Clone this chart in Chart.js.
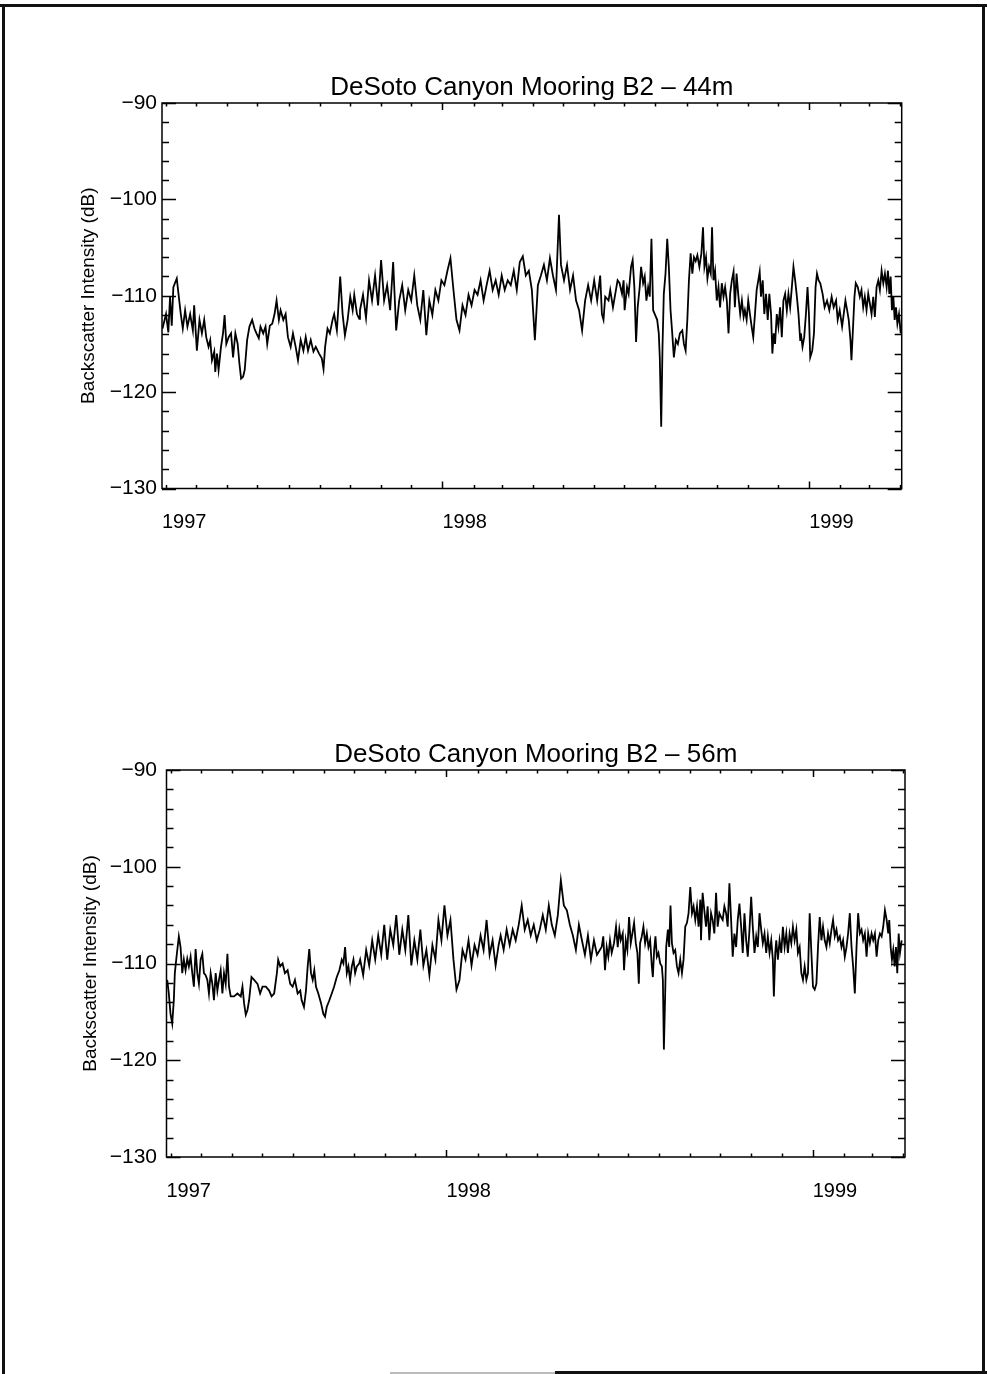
<!DOCTYPE html>
<html>
<head>
<meta charset="utf-8">
<script src="https://cdn.jsdelivr.net/npm/chart.js@4/dist/chart.umd.min.js"></script>
<style>
  html, body { margin: 0; padding: 0; background: #fff; }
  body { width: 987px; height: 1374px; position: relative; overflow: hidden; }
  .panel { position: absolute; left: 0; }
  .edge { position: absolute; background: #111; }
</style>
</head>
<body>
<div class="edge" style="left:0;top:4px;width:987px;height:3px"></div>
<div class="edge" style="left:2px;top:4px;width:3px;height:1370px"></div>
<div class="edge" style="left:982px;top:4px;width:3px;height:1370px"></div>
<div class="edge" style="left:555px;top:1371px;width:432px;height:3px"></div>
<div class="edge" style="left:390px;top:1372px;width:165px;height:2px;background:#bbb"></div>

<div class="panel" style="top:0"><canvas id="c44" width="987" height="560"></canvas></div>
<div class="panel" style="top:640px"><canvas id="c56" width="987" height="588"></canvas></div>

<script>
// Time axis: days counted from 1 Jan 1997.
const X_MIN = 86;
const X_MAX = 822;
const YEAR_TICKS = [86, 365, 730];
const YEAR_LABELS = ['1997', '1998', '1999'];
const MONTH_TICKS = [90, 120, 151, 181, 212, 243, 273, 304, 334, 365, 396, 424, 455,
  485, 516, 546, 577, 608, 638, 669, 699, 730, 761, 789, 820];
const Y_MIN = -130;
const Y_MAX = -90;
const Y_LABEL = 'Backscatter Intensity (dB)';

// Backscatter intensity at 44 m (day, dB)
const days44 = [86.5, 90, 92.3, 94, 95.7, 97.3, 100.7, 102.3, 104.7, 106.7, 109, 111.3, 114, 116.7, 118,
  120.7, 123.3, 125.7, 128, 130, 132.3, 134, 135.7, 138, 139, 140.7, 142.3, 144.7, 146.7, 148.3, 150,
  152.3, 154.7, 156.7, 159, 161.3, 163, 164.7, 166.7, 168.3, 170.7, 173, 175.7, 178, 180, 182.3, 184,
  186.7, 189, 190.7, 193.3, 195.7, 198, 200, 202.3, 204, 206.7, 209, 211.3, 214, 216.3, 219, 221.3,
  224, 226.7, 229, 231.3, 234, 236.7, 239, 242.3, 245, 246.7, 248.3, 250.7, 253, 255.7, 257.3, 260,
  261.3, 263.3, 265.7, 268, 270.7, 273.3, 275.7, 277.3, 280, 282.3,
  283, 286, 289, 292, 295, 298, 301, 304, 307, 310, 313, 316, 319, 322, 325, 328, 331, 334, 337, 340,
  343, 346, 349, 352, 355, 358, 361, 364, 367, 370, 373, 376, 379, 382, 385, 388, 391, 394, 397, 400,
  403, 406, 409, 412, 415, 418, 421, 424, 427, 430, 433, 436, 439, 442, 445, 448, 451, 454, 457, 460,
  463, 466, 469, 472, 475, 478, 481, 483, 486, 489, 492, 495, 498, 501, 504, 507, 510, 513, 516, 519, 522,
  523.7, 525.3, 527, 530.3, 532, 534.7, 537, 539.3, 541.3, 543.7, 545.3, 546.3, 548.7, 550.3, 552.7,
  554.3, 556, 557.7, 559.3, 561.3, 562.7, 564.7, 566.3, 568, 569.7, 571.3, 573, 574.7, 576.3, 578.7,
  580.3, 581.3, 582.7, 584, 585.3, 587, 588.7, 590.3, 592, 593.7, 595.3, 597.3, 599.3, 601.3, 603.7,
  605.3, 607, 608.7, 610.3, 612, 613.7, 615.3, 617, 618.7, 620.7, 622.7, 624.3, 625.7, 627.3, 628.7,
  630.3, 632, 633.3, 634.7, 636.3, 638, 639.7, 641.3, 643, 644.7, 646.3, 648, 649.7, 651.3, 653, 654.7,
  656, 657.7, 659.3, 661.3, 663, 664.7, 666, 667.7, 669.3, 671, 672.7, 674.3, 676, 677.7, 679.3, 680.7,
  682, 683.7, 685.3, 687, 688.7, 690.3, 692, 693.3, 694.7, 696, 697.7, 699.3, 701, 702.7, 704.3, 706,
  707.7, 709.3, 711, 712.7, 714.3, 716, 717.7, 719.3, 721, 721.7, 723.3, 725, 726.7, 728.3, 729.7, 731,
  733, 734.7, 736.3, 737.7, 739.3, 741, 743.3, 745.3, 747.7, 750, 752.3, 754.3, 756.7, 758.3, 760.3,
  762.7, 764.3, 766, 767.7, 769.3, 771, 772, 773.3, 775, 776.3, 778.3, 780.3, 782, 783.7, 785.3, 787,
  788.7, 790.3, 792, 793.7, 795.3, 797, 798.7, 800.3, 802, 803.7, 805.3, 807, 808.3, 809.7, 811, 812.3,
  813.7, 815, 816.3, 817.7, 819.3, 821];
const db44 = [-113.4, -111.9, -113.8, -110.1, -113.1, -109.1, -108.2, -109.7, -111.9, -113.4, -111.5, -113.2, -111.9, -113.6, -111.0,
  -115.7, -112.5, -113.9, -112.5, -114.3, -115.3, -114.6, -116.7, -115.8, -117.9, -116.0, -117.7, -115.3, -113.9, -112.0, -115.0,
  -114.3, -113.9, -116.4, -113.9, -115.0, -117.0, -118.6, -118.4, -117.7, -114.6, -113.2, -112.5, -113.4, -113.9, -114.4, -113.2,
  -113.9, -113.2, -115.0, -113.1, -112.9, -111.9, -110.5, -112.5, -111.5, -112.5, -111.9, -114.3, -115.3, -113.9, -115.3, -116.7,
  -114.6, -115.7, -114.3, -115.7, -114.6, -115.8, -115.3, -116.0, -116.5, -117.6, -115.3, -113.4, -113.9, -112.5, -111.9, -113.6,
  -111.5, -108.0, -111.9, -114.1, -112.5, -110.1, -111.5, -109.9, -111.9, -112.4,
  -111.5, -109.9, -112.3, -108.4, -110.5, -107.9, -111.0, -106.3, -110.5, -108.9, -111.5, -106.5, -113.6, -110.5, -108.9, -111.5, -109.4, -110.5, -107.9, -111.0,
  -112.5, -109.4, -114.1, -110.5, -112.0, -109.4, -110.5, -108.4, -108.9, -107.4, -106.1, -109.4, -112.5, -113.6, -111.0, -112.0, -109.9, -111.0, -109.4, -109.9,
  -108.4, -110.5, -108.9, -107.4, -109.4, -108.4, -109.9, -107.9, -109.4, -108.4, -108.9, -107.4, -109.4, -106.5, -105.9, -107.9, -107.4, -109.4, -114.6, -108.9,
  -107.9, -106.8, -108.4, -106.1, -107.9, -109.4, -101.6, -106.8, -108.4, -106.8, -109.4, -107.9, -110.5, -111.5, -113.6, -110.5, -108.9, -110.5, -108.4, -110.5, -107.9,
  -111.9, -112.5, -110.1, -110.5, -109.4, -111.2, -109.8, -108.4, -108.7, -109.8, -108.4, -111.5, -109.1, -109.8, -107.0,
  -106.3, -109.1, -114.8, -111.2, -109.1, -107.0, -108.7, -108.0, -110.5, -109.1, -110.1, -104.1, -111.5, -111.9, -112.5,
  -113.9, -116.4, -123.6, -115.3, -109.8, -107.7, -104.1, -107.0, -111.5, -113.9, -116.4, -114.6, -115.0, -113.9, -113.6,
  -115.0, -115.7, -112.5, -108.4, -105.6, -107.7, -106.0, -106.4, -105.8, -107.0, -105.6, -102.9, -107.0, -106.0, -108.2,
  -107.0, -107.7, -102.9, -108.4, -107.4, -110.5, -109.1, -111.2, -108.7, -110.1, -109.1, -110.5, -113.9, -109.8, -108.4, -107.5,
  -111.2, -107.7, -109.8, -111.9, -110.5, -112.2, -111.5, -112.5, -110.5, -111.9, -113.2, -114.3, -111.9, -109.4, -108.4, -107.5,
  -110.1, -108.4, -111.9, -109.8, -112.5, -109.8, -111.9, -116.0, -113.9, -115.0, -111.9, -113.2, -111.2, -114.3, -110.5, -109.8,
  -111.5, -109.8, -111.2, -109.1, -107.0, -108.4, -110.1, -111.9, -114.6, -113.9, -115.3, -114.3, -111.9, -109.1, -111.9, -116.4,
  -115.7, -113.9, -109.1, -107.7, -108.4, -108.7, -109.8, -111.2, -110.5, -111.5, -110.1, -111.2, -110.5, -112.5, -111.5,
  -113.2, -111.9, -110.5, -111.5, -112.5, -114.6, -116.7, -113.9, -110.1, -108.7, -109.1, -110.1, -109.4, -111.2, -110.1, -111.5,
  -109.8, -110.8, -111.9, -110.1, -112.2, -109.1, -108.4, -109.4, -107.4, -108.7, -107.7, -109.1, -107.4, -109.8, -108.0, -111.5,
  -110.1, -112.5, -111.2, -112.9, -111.9, -113.9];

// Backscatter intensity at 56 m (day, dB)
const days56 = [86.7, 88.3, 90, 91.7, 93.3, 94.3, 96, 98.3, 100, 101.7, 103.3, 105, 106.7, 108.3, 110, 111.7,
  113.3, 115, 116.7, 118.3, 120, 121.7, 123.3, 125, 126.7, 128.3, 130, 131.7, 133.3, 135, 136.7, 138.3,
  140, 141.7, 143.3, 145, 146.7, 148.3, 150, 153.3, 156.7, 160, 161.7, 163.3, 165, 166.7, 168.3, 170.7,
  173.3, 176.7, 179.3, 181.7, 185, 188.3, 190.7, 193.3, 196, 197.3, 199.3, 201.7, 204, 206.7, 209.3,
  211.7, 214, 216.7, 219.3, 220.7, 223, 225, 226.7, 228.3, 230, 231.7, 233.3, 235, 237.3, 240, 242.3,
  244, 245.7, 248.3, 250.7, 253, 255.7, 258.3, 260.7, 262.3, 264, 265.7, 267.3, 269, 270.7, 272.3, 274,
  275.7, 278,
  279, 282, 285, 288, 291, 294, 297, 300, 303, 306, 309, 312, 315, 318, 321, 324, 327, 330, 333, 336,
  339, 342, 345, 348, 351, 354, 357, 360, 363, 366, 369, 372, 375, 378, 381, 384, 387, 390, 393, 396,
  399, 402, 405, 408, 411, 414, 417, 419, 422, 425, 428, 431, 434, 437, 440, 443, 446, 449, 452, 455,
  458, 461, 464, 467, 470, 473, 476, 479, 482, 485, 488, 491, 494, 497, 500, 503, 506, 509, 512, 515,
  519.7, 521.3, 523, 524.7, 526.3, 528, 529.7, 532, 534, 535.7, 537.3, 538.7, 540.7, 542, 543.7, 545.3,
  547, 548.7, 550.3, 552, 553.7, 555.3, 556.7, 558, 559.7, 561.3, 563, 564.7, 566.3, 568, 569.7, 570.7,
  572, 573.3, 574.7, 576.3, 578, 579.7, 580.7, 581.7, 583, 584, 585.7, 587, 588.3, 589.7, 591.3, 593,
  594.7, 596.3, 598, 599.7, 601.3, 603, 604.7, 606.3, 608, 609.7, 611.3, 613, 614.7, 616.3, 618, 618.7,
  620.3, 622, 623.7, 625.3, 627, 628.7, 630.3, 632, 633.7, 635.3, 637, 638.7, 640.3, 642, 643.7, 645.3,
  647, 648.7, 650.3, 652, 653.7, 655.3, 657, 658.7, 660.3, 662, 663.7, 665.3, 667, 668.7, 670.3, 672,
  673.7, 675.3, 677, 678.7, 680.3, 682, 683.7, 685.3, 687, 688.7, 690.3, 691.3, 692.7, 693.7, 695.3, 697,
  698.7, 700.3, 702, 703.7, 705.3, 707, 708.7, 710.3, 712, 713.7, 715.3, 717, 718.7, 720.3, 722, 723.7,
  725.3, 727, 728.7, 730.3, 732, 733.7, 735.3, 737, 738.7, 740.3, 742, 743.7, 745.3, 747, 748.7, 750.3,
  752, 753.7, 755.3, 757, 758.7, 760.3, 762, 763.7, 765.3, 767, 768.7, 770.3, 772, 773.7, 775.3, 777,
  778.7, 780.3, 782, 783.7, 785.3, 787, 788.7, 790.3, 792, 793.7, 795.3, 797, 798.7, 800.3, 802, 803.7,
  805.3, 806.3, 807.7, 809, 810.3, 811.7, 813, 814.3, 815.7, 817, 818.7];
const db56 = [-111.7, -113.1, -115.2, -116.2, -113.8, -111.0, -109.3, -107.2, -108.3, -111.0, -109.6, -110.7, -109.5, -110.3, -109.3, -111.0,
  -112.4, -108.5, -111.0, -112.1, -109.6, -109.0, -111.0, -111.2, -111.7, -113.1, -111.0, -112.1, -113.8, -111.0, -112.8, -111.7,
  -110.7, -113.1, -111.0, -112.1, -109.0, -112.4, -113.4, -113.4, -113.1, -113.4, -112.4, -114.1, -115.3, -114.8, -113.8, -111.4,
  -111.7, -112.1, -113.1, -112.4, -112.4, -112.8, -113.4, -113.1, -111.0, -109.6, -110.3, -110.0, -111.0, -110.7, -112.1,
  -112.4, -111.7, -113.1, -112.8, -113.8, -114.5, -112.8, -110.3, -108.5, -111.0, -111.7, -110.7, -112.4, -113.1, -114.1, -115.2,
  -115.5, -114.5, -113.8, -113.1, -112.4, -111.4, -110.7, -109.6, -110.0, -108.3, -111.0, -110.3, -111.7, -110.3, -109.6, -111.0,
  -110.3, -110.0,
  -109.6, -111.2, -108.6, -110.2, -107.6, -109.6, -107.1, -109.1, -106.0, -109.6, -106.5, -108.1, -105.0, -109.1, -106.5, -108.6, -105.0, -110.2, -107.6, -109.6,
  -106.5, -110.2, -108.6, -111.2, -108.1, -109.6, -105.5, -107.6, -104.0, -107.1, -105.5, -109.6, -112.7, -111.7, -108.6, -109.6, -107.6, -110.2, -108.1, -109.1,
  -107.1, -108.6, -105.5, -109.1, -107.6, -110.2, -108.1, -107.1, -108.6, -106.5, -108.1, -106.5, -107.6, -106.0, -104.0, -106.5, -105.5, -107.1, -106.0, -107.6,
  -106.5, -105.0, -106.5, -104.0, -106.0, -107.1, -105.0, -101.4, -104.0, -104.5, -106.0, -107.1, -108.6, -106.0, -107.6, -109.1, -107.1, -109.6, -107.6, -109.1,
  -108.3, -107.2, -110.7, -108.3, -109.3, -107.6, -108.9, -107.9, -106.2, -108.3, -106.5, -107.6, -106.9, -110.7, -107.6, -108.6,
  -105.2, -107.9, -106.9, -105.8, -107.9, -108.9, -112.1, -107.9, -107.2, -106.2, -107.9, -106.9, -108.3, -107.6, -110.3, -111.4,
  -108.6, -107.2, -109.3, -108.9, -110.0, -110.3, -111.7, -118.9, -113.1, -108.3, -106.5, -108.3, -104.0, -107.9, -108.9, -108.6,
  -110.3, -111.0, -109.6, -111.0, -109.6, -106.2, -105.8, -104.8, -102.1, -104.8, -104.1, -105.5, -104.1, -106.2, -103.4, -107.6,
  -102.7, -104.5, -106.2, -104.1, -107.6, -104.8, -105.5, -106.9, -102.7, -106.2, -104.8, -105.2, -105.5, -104.1, -104.8, -106.2,
  -101.7, -105.5, -109.3, -106.9, -108.3, -105.5, -103.8, -106.2, -108.9, -104.8, -107.6, -109.3, -106.5, -103.1, -106.2, -108.9,
  -107.2, -108.3, -104.8, -106.5, -107.9, -106.9, -108.9, -107.2, -108.9, -107.6, -109.6, -113.4, -108.9, -107.6, -109.6, -107.6,
  -108.9, -106.2, -108.3, -106.9, -108.9, -106.9, -107.9, -106.2, -107.6, -106.5, -108.9, -108.3, -111.0, -111.7, -110.3, -111.7,
  -111.0, -104.8, -108.9, -112.4, -112.7, -112.1, -108.3, -105.2, -107.6, -106.2, -107.6, -108.3, -106.9, -107.9, -106.5, -105.5,
  -107.2, -106.5, -107.6, -107.2, -108.3, -107.6, -109.3, -108.3, -106.9, -104.8, -108.3, -110.3, -113.1, -108.3, -104.8, -106.9,
  -106.5, -107.6, -106.9, -109.3, -106.9, -107.9, -106.9, -107.6, -106.9, -109.3, -107.6, -106.9, -107.2, -106.2, -104.5, -105.5,
  -106.9, -105.5, -108.3, -109.6, -108.6, -110.3, -108.3, -111.0, -106.9, -108.9, -107.6];

const FONT = "'Liberation Sans', Arial, Helvetica, sans-serif";

// Box around the plot area with inward ticks on all four sides
const axisFrame = {
  id: 'axisFrame',
  afterDatasetsDraw(chart) {
    const { ctx, chartArea: a, scales: { x, y } } = chart;
    ctx.save();
    ctx.strokeStyle = '#000';
    ctx.lineWidth = 1.5;
    ctx.strokeRect(a.left, a.top, a.right - a.left, a.bottom - a.top);
    ctx.beginPath();
    for (let v = Y_MIN; v <= Y_MAX; v += 2) {
      const py = Math.round(y.getPixelForValue(v)) + 0.5;
      const len = v % 10 === 0 ? 14 : 7;
      ctx.moveTo(a.left, py); ctx.lineTo(a.left + len, py);
      ctx.moveTo(a.right, py); ctx.lineTo(a.right - len, py);
    }
    MONTH_TICKS.forEach(d => {
      const px = Math.round(x.getPixelForValue(d)) + 0.5;
      const len = YEAR_TICKS.includes(d) ? 7 : 3.5;
      ctx.moveTo(px, a.bottom); ctx.lineTo(px, a.bottom - len);
      ctx.moveTo(px, a.top); ctx.lineTo(px, a.top + len);
    });
    ctx.stroke();
    ctx.restore();
  }
};

function makeChart(id, title, days, values, geo) {
  return new Chart(document.getElementById(id), {
    type: 'line',
    data: {
      datasets: [{
        data: days.map((d, i) => ({ x: d, y: values[i] })),
        borderColor: '#000',
        borderWidth: 1.8,
        pointRadius: 0,
        tension: 0,
        fill: false
      }]
    },
    options: {
      responsive: false,
      animation: false,
      devicePixelRatio: 1,
      events: [],
      layout: { padding: { left: geo.padLeft, right: geo.padRight, top: 0, bottom: 0 } },
      plugins: {
        legend: { display: false },
        tooltip: { enabled: false },
        title: {
          display: true,
          text: title,
          color: '#000',
          fullSize: false,
          font: { family: FONT, size: 26, weight: 'normal', lineHeight: 1 },
          padding: { top: geo.titleTop, bottom: 2 }
        }
      },
      scales: {
        x: {
          type: 'linear',
          min: X_MIN,
          max: X_MAX,
          grid: { display: false, drawTicks: false },
          border: { display: false },
          afterBuildTicks: s => { s.ticks = YEAR_TICKS.map(v => ({ value: v })); },
          afterFit: s => { s.height = geo.xHeight; },
          ticks: {
            autoSkip: false,
            maxRotation: 0,
            align: 'start',
            padding: 24,
            color: '#000',
            font: { family: FONT, size: 20, lineHeight: 1 },
            callback: (v, i) => YEAR_LABELS[i]
          }
        },
        y: {
          min: Y_MIN,
          max: Y_MAX,
          grid: { display: false, drawTicks: false },
          border: { display: false },
          afterFit: s => { s.width = geo.yWidth; },
          ticks: {
            stepSize: 10,
            padding: geo.yPad,
            color: '#000',
            font: { family: FONT, size: 21, lineHeight: 1 },
            callback: v => '\u2212' + Math.abs(v)
          },
          title: {
            display: true,
            text: Y_LABEL,
            color: '#000',
            font: { family: FONT, size: 19, lineHeight: 1 },
            padding: { top: geo.yTitlePad, bottom: 0 }
          }
        }
      }
    },
    plugins: [axisFrame]
  });
}

makeChart('c44', 'DeSoto Canyon Mooring B2 \u2013 44m', days44, db44,
  { padLeft: 70, padRight: 85.3, titleTop: 75, xHeight: 71.5, yWidth: 92, yPad: 5, yTitlePad: 9.2 });
makeChart('c56', 'DeSoto Canyon Mooring B2 \u2013 56m', days56, db56,
  { padLeft: 70, padRight: 82, titleTop: 102, xHeight: 71, yWidth: 96.5, yPad: 9.5, yTitlePad: 11 });
</script>
</body>
</html>
